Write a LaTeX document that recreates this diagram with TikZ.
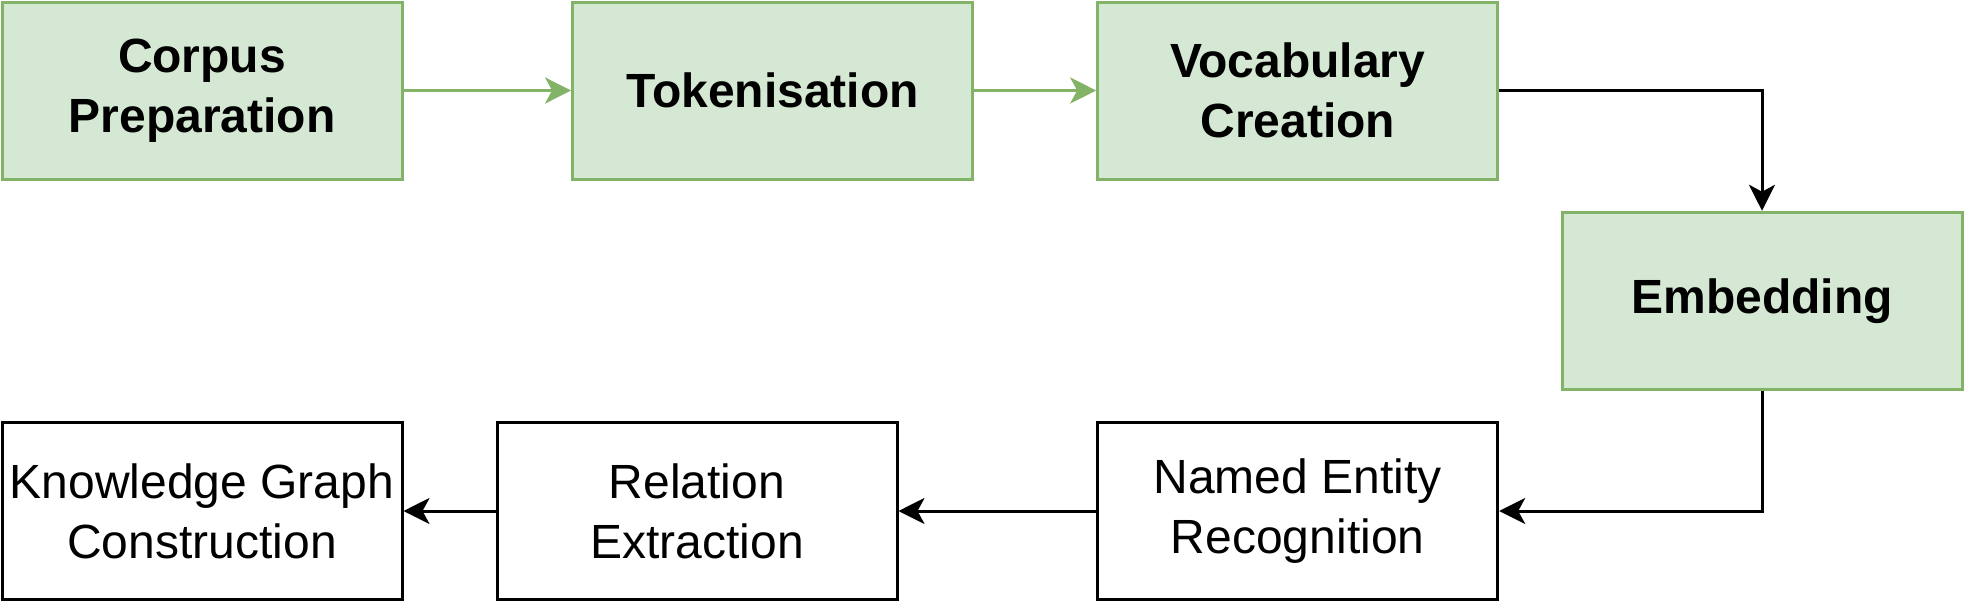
\documentclass[tikz,border=0pt]{standalone}
\usepackage{fontspec}
\setmainfont{Liberation Sans}
\usetikzlibrary{arrows.meta}
\definecolor{gfill}{HTML}{D5E8D4}
\definecolor{gline}{HTML}{82B366}
\tikzset{
  stepbox/.style={draw=black, fill=white, line width=3pt, minimum width=400pt, minimum height=177pt,
    align=center, inner sep=0pt, font=\fontsize{48}{60}\selectfont},
  greenbox/.style={stepbox, draw=gline, fill=gfill, font=\fontsize{48}{60}\selectfont\bfseries},
  blackarrow/.style={draw=black, line width=3pt, -{Stealth[length=26pt, width=26pt, inset=7pt]}},
  greenarrow/.style={draw=gline, line width=3pt, -{Stealth[length=26pt, width=26pt, inset=7pt]}}
}
\begin{document}
\begin{tikzpicture}[x=1pt, y=-1pt]
\useasboundingbox (0,0) rectangle (1965,603);
\node[greenbox] (corpus) at (202,90.5) {Corpus\\Preparation};
\node[greenbox] (token) at (772.6,90.5) {Tokenisation};
\node[greenbox] (vocab) at (1297.7,90.5) {Vocabulary\\Creation};
\node[greenbox] (embed) at (1762,300.75) {Embedding};
\node[stepbox] (ner) at (1297.7,511) {Named Entity\\Recognition};
\node[stepbox] (rel) at (697,511) {Relation\\Extraction};
\node[stepbox] (kg) at (202,511) {Knowledge Graph\\Construction};
\draw[greenarrow] (corpus) -- (token);
\draw[greenarrow] (token) -- (vocab);
\draw[blackarrow] (vocab.east) -| (embed.north);
\draw[blackarrow] (embed.south) |- (ner.east);
\draw[blackarrow] (ner) -- (rel);
\draw[blackarrow] (rel) -- (kg);
\end{tikzpicture}
\end{document}
